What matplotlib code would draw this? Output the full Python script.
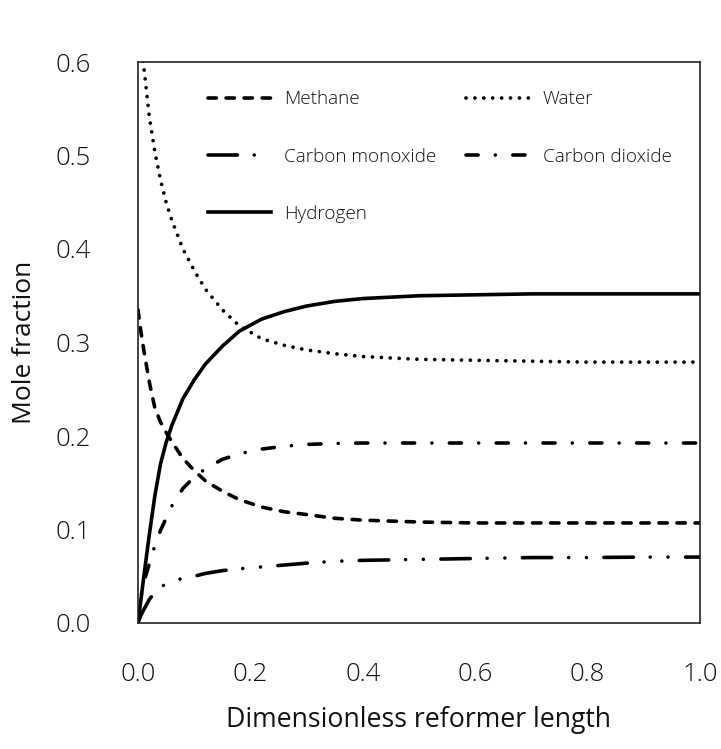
import matplotlib
matplotlib.use("Agg")
import matplotlib.pyplot as plt

plt.rcParams["font.family"] = ["Open Sans", "DejaVu Sans"]
plt.rcParams["font.weight"] = 300
plt.rcParams["lines.scale_dashes"] = False

# Dimensionless axial position along the reformer
length = [0.0, 0.005, 0.01, 0.02, 0.03, 0.04, 0.05, 0.06, 0.08, 0.10, 0.12,
          0.15, 0.18, 0.22, 0.26, 0.30, 0.35, 0.40, 0.50, 0.60, 0.70, 0.80,
          0.90, 1.00]

# Mole fractions of each species
methane = [0.335, 0.312, 0.293, 0.258, 0.230, 0.215, 0.204, 0.194, 0.176,
           0.163, 0.152, 0.141, 0.132, 0.124, 0.119, 0.116, 0.112, 0.110,
           0.108, 0.107, 0.107, 0.107, 0.107, 0.107]
water = [0.680, 0.635, 0.597, 0.542, 0.504, 0.474, 0.450, 0.431, 0.400,
         0.377, 0.357, 0.335, 0.318, 0.304, 0.297, 0.292, 0.288, 0.285,
         0.282, 0.281, 0.280, 0.279, 0.279, 0.279]
carbon_monoxide = [0.0, 0.008, 0.014, 0.025, 0.033, 0.038, 0.042, 0.044,
                   0.048, 0.050, 0.053, 0.056, 0.058, 0.060, 0.062, 0.064,
                   0.066, 0.067, 0.068, 0.069, 0.070, 0.070, 0.0705, 0.0705]
carbon_dioxide = [0.0, 0.027, 0.043, 0.063, 0.083, 0.099, 0.112, 0.125,
                  0.144, 0.156, 0.165, 0.175, 0.181, 0.186, 0.189, 0.191,
                  0.192, 0.1925, 0.1925, 0.1925, 0.1925, 0.1925, 0.1925,
                  0.1925]
hydrogen = [0.0, 0.024, 0.048, 0.094, 0.136, 0.170, 0.193, 0.211, 0.240,
            0.260, 0.277, 0.296, 0.312, 0.325, 0.333, 0.339, 0.344, 0.347,
            0.350, 0.351, 0.352, 0.352, 0.352, 0.352]

x_ticks = [0.0, 0.2, 0.4, 0.6, 0.8, 1.0]
y_ticks = [0.0, 0.1, 0.2, 0.3, 0.4, 0.5, 0.6]

fig = plt.figure(figsize=(7.21, 7.49), dpi=100)
ax = fig.add_axes([138 / 721, 126 / 749, 562 / 721, 561 / 749])

lw = 2.6
styles = {
    "Methane": dict(ls=(0, (6.0, 7.0)), lw=lw, dash_capstyle="round"),
    "Water": dict(ls=(0, (0.01, 6.4)), lw=2.7, dash_capstyle="round"),
    "Carbon monoxide": dict(ls=(0, (21.2, 12.1, 0.01, 12.8, 0.01, 12.6)),
                            lw=lw, dash_capstyle="round"),
    "Carbon dioxide": dict(ls=(0, (8.7, 12.4, 0.01, 12.6)), lw=lw,
                           dash_capstyle="round"),
    "Hydrogen": dict(ls="-", lw=lw),
}
series = {
    "Methane": methane,
    "Water": water,
    "Carbon monoxide": carbon_monoxide,
    "Carbon dioxide": carbon_dioxide,
    "Hydrogen": hydrogen,
}
lines = {}
for name, vals in series.items():
    (ln,) = ax.plot(length, vals, color="black", label=name, **styles[name])
    lines[name] = ln

ax.set_xlim(0, 1.0)
ax.set_ylim(0, 0.6)
ax.set_xticks(x_ticks)
ax.set_yticks(y_ticks)
ax.set_xticklabels([f"{v:.1f}" for v in x_ticks])
ax.set_yticklabels([f"{v:.1f}" for v in y_ticks])
ax.tick_params(axis="both", length=0, labelsize=18.5, labelcolor="#111111")
ax.tick_params(axis="x", pad=28)
ax.tick_params(axis="y", pad=34)

for sp in ax.spines.values():
    sp.set_linewidth(1.2)
    sp.set_color("#222222")

ax.set_xlabel("Dimensionless reformer length", fontsize=19.2,
              color="#111111", labelpad=14)
ax.set_ylabel("Mole fraction", fontsize=19, color="#111111", labelpad=13)

order = ["Methane", "Carbon monoxide", "Hydrogen", "Water", "Carbon dioxide"]
leg = ax.legend([lines[n] for n in order], order, ncol=2, frameon=False,
                loc="upper left", bbox_to_anchor=(0.094, 0.98),
                fontsize=13.6, handlelength=3.35, handletextpad=0.68,
                columnspacing=1.6, labelspacing=2.08)
for t in leg.get_texts():
    t.set_color("#111111")

fig.savefig("out.png", dpi=100)
